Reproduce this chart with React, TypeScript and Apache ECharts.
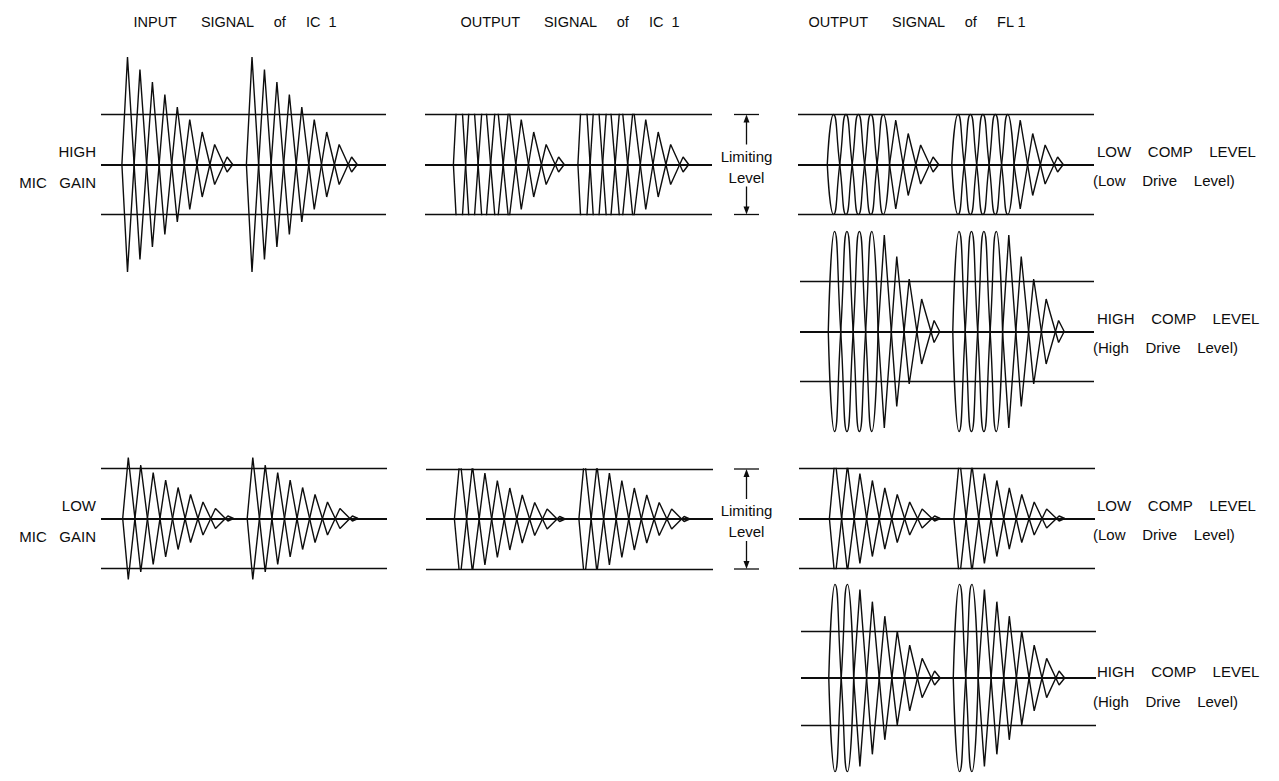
import React, { useEffect, useRef } from "react";
import * as echarts from "echarts";

// ---------- data ----------
// Peak amplitude of each successive half-cycle of one burst, in units of the limiting level
const inputHighGainPeaks = [2.15, 1.9, 1.65, 1.4, 1.15, 0.9, 0.65, 0.4, 0.15];
const outputIC1HighGainPeaks = [2.15, 1.9, 1.65, 1.4, 1.15, 0.9, 0.65, 0.4, 0.15]; // limited by the IC
const fl1LowCompHighGainPeaks = [1, 1, 1, 1, 1, 0.89, 0.62, 0.39, 0.15];
const fl1HighCompHighGainPeaks = [2, 2, 2, 2, 1.93, 1.5, 1.05, 0.65, 0.22];
const inputLowGainPeaks = [1.22, 1.07, 0.92, 0.77, 0.62, 0.48, 0.33, 0.2, 0.05];
const outputIC1LowGainPeaks = [1.22, 1.07, 0.92, 0.77, 0.62, 0.48, 0.33, 0.2, 0.05];
const fl1LowCompLowGainPeaks = [1.22, 1.07, 0.9, 0.76, 0.61, 0.48, 0.33, 0.19, 0.05];
const fl1HighCompLowGainPeaks = [2, 2, 1.89, 1.63, 1.32, 1.0, 0.7, 0.42, 0.15];

// half-cycle index of each peak, and the start of each of the two bursts
const peakSteps = [0, 1, 2, 3, 4, 5, 6, 7, 8];
const burstStarts = [0, 10];
const burstEdge = 0.45; // half-cycles from the axis crossing to the first / last peak
const referenceLevels = [1, 0, -1];

const columnTitles = [
  "INPUT      SIGNAL     of     IC  1",
  "OUTPUT      SIGNAL     of     IC  1",
  "OUTPUT      SIGNAL     of     FL 1",
];
const rowLabels = [
  ["HIGH", "MIC   GAIN"],
  ["LOW", "MIC   GAIN"],
];
const compLabels = [
  ["LOW    COMP    LEVEL", "(Low    Drive    Level)"],
  ["HIGH    COMP    LEVEL", "(High    Drive    Level)"],
  ["LOW    COMP    LEVEL", "(Low    Drive    Level)"],
  ["HIGH    COMP    LEVEL", "(High    Drive    Level)"],
];
const limitingLabel = ["Limiting", "Level"];

// ---------- layout ----------
const UNIT = 12.45; // px per half-cycle
const LIMIT_PX = 50; // px per limiting level
const INK = "#0d0d0d";
const FONT = "'Liberation Sans', Arial, Helvetica, sans-serif";

type Panel = {
  peaks: number[];
  rounded: number;
  clip: boolean;
  t0: number;
  cy: number;
  x0: number;
  x1: number;
  yR: number;
};

const panels: Panel[] = [
  { peaks: inputHighGainPeaks, rounded: 0, clip: false, t0: 127.5, cy: 164.5, x0: 101, x1: 386, yR: 2.3 },
  { peaks: outputIC1HighGainPeaks, rounded: 0, clip: true, t0: 459, cy: 164.5, x0: 425, x1: 712, yR: 1 },
  { peaks: fl1LowCompHighGainPeaks, rounded: 5, clip: false, t0: 833.5, cy: 164.5, x0: 798, x1: 1094, yR: 1.3 },
  { peaks: fl1HighCompHighGainPeaks, rounded: 4, clip: false, t0: 834.5, cy: 331.5, x0: 800, x1: 1094, yR: 2.2 },
  { peaks: inputLowGainPeaks, rounded: 0, clip: false, t0: 128.3, cy: 518.5, x0: 101, x1: 387, yR: 1.4 },
  { peaks: outputIC1LowGainPeaks, rounded: 0, clip: true, t0: 460, cy: 519, x0: 426, x1: 713, yR: 1 },
  { peaks: fl1LowCompLowGainPeaks, rounded: 0, clip: true, t0: 835, cy: 518.5, x0: 799, x1: 1095, yR: 1 },
  { peaks: fl1HighCompLowGainPeaks, rounded: 2, clip: false, t0: 835, cy: 685, x0: 801, x1: 1096, yR: 2.2 },
];

const titleX = [235, 570, 917];
const titleY = 21.5;
const rowCy = [164.5, 518.5];
const compCy = [164.5, 331.5, 518.5, 685];
const limitX = 746.5;
const limitCy = [164.5, 519];

function buildOption() {
  const grid: any[] = [];
  const xAxis: any[] = [];
  const yAxis: any[] = [];
  const series: any[] = [];
  const lineStyle = { color: INK, width: 1.4 };

  panels.forEach((p, i) => {
    grid.push({
      left: p.x0,
      top: p.cy - p.yR * LIMIT_PX,
      width: p.x1 - p.x0,
      height: 2 * p.yR * LIMIT_PX,
      show: false,
      containLabel: false,
    });
    xAxis.push({
      type: "value",
      gridIndex: i,
      min: (p.x0 - p.t0) / UNIT,
      max: (p.x1 - p.t0) / UNIT,
      show: false,
    });
    yAxis.push({ type: "value", gridIndex: i, min: -p.yR, max: p.yR, show: false });

    // reference lines: +limit, centre, -limit
    series.push({
      type: "line",
      xAxisIndex: i,
      yAxisIndex: i,
      data: [],
      silent: true,
      markLine: {
        silent: true,
        symbol: ["none", "none"],
        label: { show: false },
        lineStyle: { color: INK, width: 1.3, type: "solid" },
        data: referenceLevels.map((v) => ({
          yAxis: v,
          lineStyle: { color: INK, width: v === 0 ? 1.8 : 1.3, type: "solid" },
        })),
      },
    });

    const last = peakSteps[peakSteps.length - 1];
    burstStarts.forEach((b) => {
      [1, -1].forEach((s) => {
        const sgn = (k: number) => s * (k % 2 === 0 ? 1 : -1);
        if (p.rounded === 0) {
          const pts: number[][] = [[b - burstEdge, 0]];
          peakSteps.forEach((k, j) => pts.push([b + k, sgn(k) * p.peaks[j]]));
          pts.push([b + last + burstEdge, 0]);
          series.push({
            type: "line",
            xAxisIndex: i,
            yAxisIndex: i,
            data: pts,
            showSymbol: false,
            symbol: "none",
            clip: p.clip,
            silent: true,
            lineStyle,
          });
        } else {
          const smoothPts: number[][] = [[b - 0.5, 0]];
          const sharpPts: number[][] = [];
          peakSteps.forEach((k, j) => {
            if (j < p.rounded) {
              smoothPts.push([b + k, sgn(k) * p.peaks[j]]);
              smoothPts.push([b + k + 0.5, 0]);
            } else {
              if (sharpPts.length === 0) sharpPts.push([b + k - 0.5, 0]);
              sharpPts.push([b + k, sgn(k) * p.peaks[j]]);
            }
          });
          sharpPts.push([b + last + burstEdge, 0]);
          series.push({
            type: "line",
            xAxisIndex: i,
            yAxisIndex: i,
            data: smoothPts,
            smooth: 0.6,
            showSymbol: false,
            symbol: "none",
            clip: false,
            silent: true,
            lineStyle,
          });
          series.push({
            type: "line",
            xAxisIndex: i,
            yAxisIndex: i,
            data: sharpPts,
            showSymbol: false,
            symbol: "none",
            clip: false,
            silent: true,
            lineStyle,
          });
        }
      });
    });
  });

  const txt = (text: string, x: number, y: number, size: number, align: string) => ({
    type: "text",
    x,
    y,
    silent: true,
    style: {
      text,
      fill: INK,
      fontFamily: FONT,
      fontSize: size,
      align,
      verticalAlign: "middle",
      textAlign: align,
      textVerticalAlign: "middle",
    },
  });

  const graphic: any[] = [];
  columnTitles.forEach((t, i) => graphic.push(txt(t, titleX[i], titleY, 14.5, "center")));
  rowLabels.forEach((pair, i) => {
    graphic.push(txt(pair[0], 96, rowCy[i] - 13, 15, "right"));
    graphic.push(txt(pair[1], 96, rowCy[i] + 18, 15, "right"));
  });
  compLabels.forEach((pair, i) => {
    graphic.push(txt(pair[0], 1097, compCy[i] - 13.5, 15, "left"));
    graphic.push(txt(pair[1], 1093, compCy[i] + 16, 15, "left"));
  });
  limitCy.forEach((cy) => {
    const top = cy - LIMIT_PX;
    const bot = cy + LIMIT_PX;
    const ls = { stroke: INK, lineWidth: 1.3 };
    graphic.push({ type: "line", silent: true, shape: { x1: limitX - 12.5, y1: top, x2: limitX + 12.5, y2: top }, style: ls });
    graphic.push({ type: "line", silent: true, shape: { x1: limitX - 12.5, y1: bot, x2: limitX + 12.5, y2: bot }, style: ls });
    graphic.push({ type: "line", silent: true, shape: { x1: limitX, y1: top + 6, x2: limitX, y2: cy - 20 }, style: ls });
    graphic.push({ type: "line", silent: true, shape: { x1: limitX, y1: cy + 22, x2: limitX, y2: bot - 6 }, style: ls });
    graphic.push({
      type: "polygon",
      silent: true,
      shape: { points: [[limitX, top], [limitX - 3, top + 8], [limitX + 3, top + 8]] },
      style: { fill: INK },
    });
    graphic.push({
      type: "polygon",
      silent: true,
      shape: { points: [[limitX, bot], [limitX - 3, bot - 8], [limitX + 3, bot - 8]] },
      style: { fill: INK },
    });
    graphic.push(txt(limitingLabel[0], limitX, cy - 8.5, 15, "center"));
    graphic.push(txt(limitingLabel[1], limitX, cy + 12.5, 15, "center"));
  });

  return {
    animation: false,
    backgroundColor: "#ffffff",
    grid,
    xAxis,
    yAxis,
    series,
    graphic,
  };
}

export default function App() {
  const ref = useRef<HTMLDivElement>(null);
  useEffect(() => {
    if (!ref.current) return;
    const chart = echarts.init(ref.current, undefined, { renderer: "svg" });
    chart.setOption(buildOption() as any);
    return () => chart.dispose();
  }, []);
  return (
    <div
      ref={ref}
      style={{ position: "fixed", left: 0, top: 0, width: "1279px", height: "781px", background: "#fff" }}
    />
  );
}
